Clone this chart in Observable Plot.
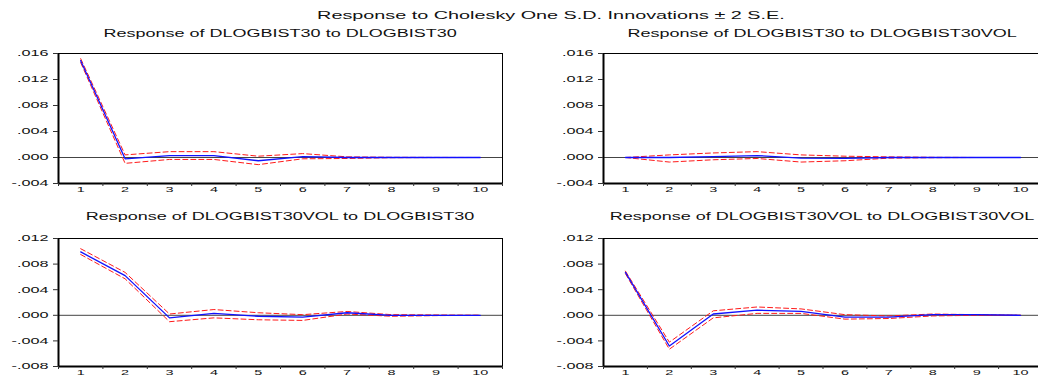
<!DOCTYPE html>
<html>
<head>
<meta charset="utf-8">
<script src="https://cdn.jsdelivr.net/npm/d3@7"></script>
<script src="https://cdn.jsdelivr.net/npm/@observablehq/plot@0.6"></script>
<style>
  html, body { margin: 0; padding: 0; background: #fff; }
  #chart { position: relative; width: 1038px; height: 378px; overflow: hidden; background: #fff;
           font-family: "Liberation Sans", Arial, sans-serif; color: #111; }
  .ttl { position: absolute; text-align: center; white-space: nowrap; line-height: 1; }
  .ttl span { display: inline-block; transform: scaleX(1.8); transform-origin: 50% 50%; }
  .panel { position: absolute; }
</style>
</head>
<body>
<div id="chart"></div>
<script>
// ---- data ----
const horizons = [1, 2, 3, 4, 5, 6, 7, 8, 9, 10];
const yTicksTop = [-0.004, 0, 0.004, 0.008, 0.012, 0.016];
const yTicksBottom = [-0.008, -0.004, 0, 0.004, 0.008, 0.012];

const mainTitle = "Response to Cholesky One S.D. Innovations \u00B1 2 S.E.";
const panelTitles = [
  "Response of DLOGBIST30 to DLOGBIST30",
  "Response of DLOGBIST30 to DLOGBIST30VOL",
  "Response of DLOGBIST30VOL to DLOGBIST30",
  "Response of DLOGBIST30VOL to DLOGBIST30VOL"
];

// Response of DLOGBIST30 to DLOGBIST30
const resp11  = [0.0149, -0.0002, 0.0003, 0.0003, -0.0005, 0.00015, 0.0000, 0.0000, 0.0000, 0.0000];
const upper11 = [0.0152, 0.0004, 0.0009, 0.0009, 0.0002, 0.0006, 0.0001, 0.00003, 0.00001, 0.0000];
const lower11 = [0.0146, -0.0009, -0.0003, -0.0003, -0.0011, -0.0002, -0.00015, -0.00003, -0.00001, 0.0000];

// Response of DLOGBIST30 to DLOGBIST30VOL
const resp12  = [0.0000, 0.0000, 0.00015, 0.0003, -0.0001, -0.00015, 0.0000, 0.0000, 0.0000, 0.0000];
const upper12 = [0.0000, 0.0004, 0.0007, 0.0009, 0.0004, 0.0002, 0.0001, 0.00003, 0.0000, 0.0000];
const lower12 = [0.0000, -0.0007, -0.00035, -0.00015, -0.0007, -0.0005, -0.0001, -0.00003, 0.0000, 0.0000];

// Response of DLOGBIST30VOL to DLOGBIST30
const resp21  = [0.0099, 0.0062, -0.0004, 0.0003, -0.00015, -0.0003, 0.0004, 0.0000, 0.0000, 0.0000];
const upper21 = [0.0104, 0.0067, 0.0002, 0.0009, 0.0004, 0.0001, 0.0006, 0.0001, 0.00005, 0.0000];
const lower21 = [0.0095, 0.0057, -0.0010, -0.0004, -0.0007, -0.0008, 0.0002, -0.00015, -0.00005, 0.0000];

// Response of DLOGBIST30VOL to DLOGBIST30VOL
const resp22  = [0.0067, -0.0048, 0.0002, 0.0008, 0.0006, -0.0003, -0.0003, 0.0001, 0.0001, 0.0000];
const upper22 = [0.0069, -0.0042, 0.0007, 0.0013, 0.0010, 0.0001, -0.0001, 0.0002, 0.0001, 0.0000];
const lower22 = [0.0065, -0.0053, -0.0004, 0.0003, 0.0003, -0.0006, -0.0005, -0.0001, 0.0000, 0.0000];

// ---- drawing ----
const STRETCH = 1.8;
const chart = document.getElementById("chart");
const bounds = d3.range(0, 11).map(i => i + 0.5);
const fmtY = v => (v < 0 ? "-" : "") + Math.abs(v).toFixed(3).replace(/^0/, "");

function addTitle(text, cx, cy, size, w) {
  const d = document.createElement("div");
  d.className = "ttl";
  d.style.left = (cx - w / 2) + "px";
  d.style.width = w + "px";
  d.style.top = (cy - size / 2) + "px";
  d.style.fontSize = size + "px";
  const s = document.createElement("span");
  s.textContent = text;
  d.appendChild(s);
  chart.appendChild(d);
}

function stretchText(svg) {
  svg.querySelectorAll("text").forEach(t => {
    const tspans = t.querySelectorAll("tspan");
    const targets = tspans.length ? Array.from(tspans) : [t];
    targets.forEach(el => {
      if (!el.textContent) return;
      const len = el.getComputedTextLength();
      if (len > 0) {
        el.setAttribute("textLength", len * STRETCH);
        el.setAttribute("lengthAdjust", "spacingAndGlyphs");
      }
    });
  });
}

function panel(resp, upper, lower, yTicks, left, top, width, height, mL, mR, mT, mB) {
  const rows = horizons.map((h, i) => ({h, resp: resp[i], upper: upper[i], lower: lower[i]}));
  const y0 = yTicks[0], y1 = yTicks[yTicks.length - 1];
  const svg = Plot.plot({
    width, height,
    marginLeft: mL, marginRight: mR, marginTop: mT, marginBottom: mB,
    x: {type: "linear", domain: [0.5, 10.5]},
    y: {domain: [y0, y1]},
    style: {fontFamily: "'Liberation Sans', Arial, sans-serif", fontSize: "9px", color: "#111", background: "transparent", overflow: "visible"},
    marks: [
      Plot.ruleY([0], {stroke: "#444", strokeWidth: 1}),
      Plot.line(rows, {x: "h", y: "upper", stroke: "#ff1a1a", strokeWidth: 1, strokeDasharray: "5,3"}),
      Plot.line(rows, {x: "h", y: "lower", stroke: "#ff1a1a", strokeWidth: 1, strokeDasharray: "5,3"}),
      Plot.line(rows, {x: "h", y: "resp", stroke: "#1010ff", strokeWidth: 1.3}),
      Plot.frame({stroke: "#000", strokeWidth: 1}),
      Plot.ruleX([0.5], {stroke: "#000", strokeWidth: 2}),
      Plot.ruleY([y0], {stroke: "#000", strokeWidth: 2}),
      Plot.axisY({ticks: yTicks, tickSize: 5, tickPadding: 5, tickFormat: fmtY, stroke: "#333", fontSize: 9, label: null}),
      Plot.axisX({ticks: bounds, tickSize: 3, tickFormat: () => "", stroke: "#333", label: null}),
      Plot.axisX({ticks: horizons, tickSize: 0, tickPadding: 3, tickFormat: d => String(d), fontSize: 8, label: null})
    ]
  });
  svg.classList.add("panel");
  svg.style.left = left + "px";
  svg.style.top = top + "px";
  chart.appendChild(svg);
  stretchText(svg);
}

panel(resp11, upper11, lower11, yTicksTop,    0,   45, 510, 155, 58, 8, 8, 17);
panel(resp12, upper12, lower12, yTicksTop,    518, 45, 524, 155, 85, 0, 8, 17);
panel(resp21, upper21, lower21, yTicksBottom, 0,  230, 510, 148, 58, 8, 8, 12);
panel(resp22, upper22, lower22, yTicksBottom, 518, 230, 524, 148, 85, 0, 8, 12);

addTitle(mainTitle, 551, 15, 11, 600);
addTitle(panelTitles[0], 280, 34, 10, 500);
addTitle(panelTitles[1], 822, 34, 10, 500);
addTitle(panelTitles[2], 280, 217, 10, 500);
addTitle(panelTitles[3], 822, 217, 10, 500);
</script>
</body>
</html>
